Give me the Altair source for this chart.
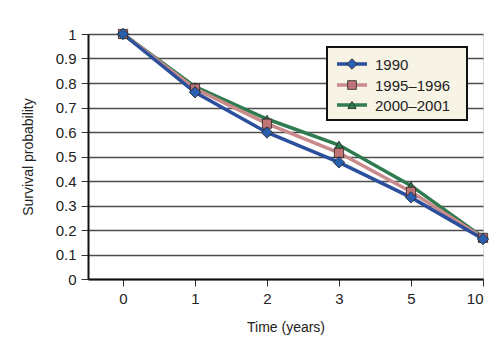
import altair as alt
import pandas as pd

time_labels = ["0", "1", "2", "3", "5", "10"]
series_names = ["1990", "1995\u20131996", "2000\u20132001"]
surv_1990 = [1.0, 0.762, 0.598, 0.476, 0.333, 0.163]
surv_1995 = [1.0, 0.777, 0.634, 0.515, 0.356, 0.168]
surv_2000 = [1.0, 0.785, 0.653, 0.547, 0.381, 0.170]
y_ticks = [0, 0.1, 0.2, 0.3, 0.4, 0.5, 0.6, 0.7, 0.8, 0.9, 1.0]

line_colors = ["#2b4f9c", "#c98a8b", "#2f7a4e"]
fill_colors = ["#2a5fae", "#c07476", "#2e7a50"]
shapes = ["diamond", "square", "triangle-up"]

rows = []
for name, vals in zip(series_names, [surv_1990, surv_1995, surv_2000]):
    for i, (t, v) in enumerate(zip(time_labels, vals)):
        rows.append({"series": name, "idx": i, "time": t, "surv": v})
df = pd.DataFrame(rows)
one = pd.DataFrame({"k": [0]})

label_expr = "[" + ",".join("'" + t + "'" for t in time_labels) + "][datum.value]"

x_enc = alt.X("idx:Q",
              scale=alt.Scale(domain=[-35 / 72, len(time_labels) - 1], nice=False, zero=False),
              axis=alt.Axis(values=list(range(len(time_labels))), labelExpr=label_expr,
                            title="Time (years)", grid=False, domainColor="#111",
                            domainWidth=2, tickColor="#333", tickSize=7, tickWidth=1,
                            labelFontSize=15, labelPadding=5, labelColor="#222",
                            titleFontSize=14, titleFontWeight="normal", titlePadding=14,
                            titleColor="#222"))
y_enc = alt.Y("surv:Q",
              scale=alt.Scale(domain=[0, 1], nice=False),
              axis=alt.Axis(values=y_ticks, format="~g", title="Survival probability",
                            grid=True, gridColor="#4d4d4d", gridWidth=1.5, domainColor="#111",
                            domainWidth=2, tickColor="#333", tickSize=7, tickWidth=1,
                            labelFontSize=15, labelPadding=5, labelColor="#222",
                            titleFontSize=14, titleFontWeight="normal", titlePadding=20,
                            titleColor="#222"))

color_scale = alt.Scale(domain=series_names, range=line_colors)
fill_scale = alt.Scale(domain=series_names, range=fill_colors)
shape_scale = alt.Scale(domain=series_names, range=shapes)

layers = []
for k in [2, 1, 0]:
    sub = df[df["series"] == series_names[k]]
    layers.append(alt.Chart(sub).mark_line(strokeWidth=3.5, clip=False).encode(
        x=x_enc, y=y_enc,
        color=alt.Color("series:N", scale=color_scale, legend=None),
        order="idx:Q"))
for k in [2, 1, 0]:
    sub = df[df["series"] == series_names[k]]
    size = {0: 130, 1: 85, 2: 80}[k]
    layers.append(alt.Chart(sub).mark_point(filled=True, size=size, stroke="#222",
                                            strokeWidth=0.8, opacity=1, clip=False).encode(
        x=x_enc, y=y_enc,
        fill=alt.Fill("series:N", scale=fill_scale, legend=None),
        shape=alt.Shape("series:N", scale=shape_scale, legend=None)))

# manual legend
layers.append(alt.Chart(one).mark_rect(fill="#f8f4e5", stroke="#111", strokeWidth=2).encode(
    x=alt.value(239), x2=alt.value(379), y=alt.value(13), y2=alt.value(86)))
entry_y = [30, 51, 71]
for k, name in enumerate(series_names):
    layers.append(alt.Chart(one).mark_rule(color=line_colors[k], strokeWidth=3.5).encode(
        x=alt.value(249), x2=alt.value(279), y=alt.value(entry_y[k])))
    layers.append(alt.Chart(one).mark_point(filled=True, shape=shapes[k], fill=fill_colors[k],
                                            stroke="#222", strokeWidth=0.8, opacity=1,
                                            size={0: 110, 1: 75, 2: 70}[k]).encode(
        x=alt.value(264), y=alt.value(entry_y[k])))
    layers.append(alt.Chart(one).mark_text(align="left", baseline="middle", fontSize=15,
                                           color="#222").encode(
        x=alt.value(287), y=alt.value(entry_y[k] + 1), text=alt.value(name)))

chart = alt.layer(*layers).properties(
    width=395, height=245,
    autosize=alt.AutoSizeParams(type="none"),
    padding={"left": 88, "top": 34, "right": 18, "bottom": 64},
    background="white",
).configure_view(fill="#f8f4e5", stroke=None).configure(
    font="Liberation Sans")

chart.save("out.html", embed_options={"renderer": "svg", "actions": False})
